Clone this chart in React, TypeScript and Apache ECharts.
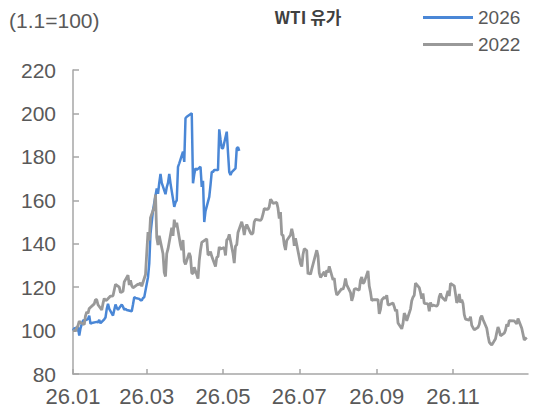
import React, { useEffect, useRef } from 'react';
import * as echarts from 'echarts';

const TITLE = 'WTI 유가';
const UNIT_NOTE = '(1.1=100)';
const YEAR = 2026;
const X_TICK_MONTHS = [1, 3, 5, 7, 9, 11];
const Y_MIN = 80;
const Y_MAX = 220;
const Y_STEP = 20;
const NAME_2026 = '2026';
const NAME_2022 = '2022';

// 2026 WTI, indexed (1.1 = 100), by trading date
const WTI_2026: [string, number][] = [
  ['01-01', 100.0], ['01-02', 101.0], ['01-05', 101.5], ['01-06', 97.7], ['01-07', 101.0], ['01-08', 103.0],
  ['01-09', 104.6], ['01-12', 105.0], ['01-13', 105.4], ['01-14', 106.9], ['01-15', 103.1], ['01-16', 103.5],
  ['01-20', 104.0], ['01-21', 103.8], ['01-22', 104.9], ['01-23', 103.4], ['01-26', 105.2], ['01-27', 106.0],
  ['01-28', 110.0], ['01-29', 112.3], ['01-30', 110.0],
  ['02-02', 106.9], ['02-03', 109.5], ['02-04', 112.0], ['02-05', 110.5], ['02-06', 109.6], ['02-09', 112.0],
  ['02-10', 111.0], ['02-11', 109.6], ['02-12', 110.0], ['02-13', 109.5], ['02-17', 108.9], ['02-18', 112.0],
  ['02-19', 115.4], ['02-20', 115.0], ['02-23', 114.6], ['02-24', 114.0], ['02-25', 113.9], ['02-26', 115.0],
  ['02-27', 115.4],
  ['03-02', 124.6], ['03-03', 130.8], ['03-04', 144.7], ['03-05', 150.0], ['03-06', 155.4], ['03-09', 165.4],
  ['03-10', 163.0], ['03-11', 168.0], ['03-12', 172.1], ['03-13', 168.0], ['03-16', 162.8], ['03-17', 166.0],
  ['03-18', 168.0], ['03-19', 172.1], ['03-20', 167.8], ['03-23', 157.0], ['03-24', 159.0], ['03-25', 160.0],
  ['03-26', 175.4], ['03-27', 177.0], ['03-30', 182.4], ['03-31', 177.7],
  ['04-01', 197.8], ['04-02', 198.5], ['04-06', 200.1], ['04-07', 167.8], ['04-08', 172.0], ['04-09', 174.7],
  ['04-10', 174.0], ['04-13', 175.4], ['04-14', 166.2], ['04-15', 169.0], ['04-16', 150.0], ['04-17', 155.0],
  ['04-20', 161.6], ['04-21', 167.0], ['04-22', 173.1], ['04-23', 173.0], ['04-24', 174.0], ['04-27', 173.9],
  ['04-28', 192.7], ['04-29', 188.0], ['04-30', 183.9],
  ['05-01', 184.0], ['05-04', 191.6], ['05-05', 182.0], ['05-06', 173.0], ['05-07', 171.6], ['05-08', 173.0],
  ['05-11', 174.7], ['05-12', 183.9], ['05-13', 184.5], ['05-14', 182.8],
];

// 2022 WTI, indexed, placed at the calendar date where it is drawn
const WTI_2022: [string, number][] = [
  ['01-01', 100.0], ['01-03', 100.0], ['01-04', 101.2], ['01-05', 102.3], ['01-06', 104.4], ['01-07', 103.7],
  ['01-10', 102.8], ['01-11', 106.8], ['01-12', 108.6], ['01-13', 107.9], ['01-14', 110.2], ['01-18', 112.3],
  ['01-19', 114.3], ['01-20', 114.2], ['01-21', 111.9], ['01-24', 109.5], ['01-25', 112.5], ['01-26', 114.8],
  ['01-27', 113.8], ['01-28', 114.1], ['01-31', 115.9],
  ['02-01', 115.9], ['02-02', 116.0], ['02-03', 118.7], ['02-04', 121.3], ['02-07', 120.0], ['02-08', 117.5],
  ['02-09', 117.8], ['02-10', 118.1], ['02-11', 122.4], ['02-14', 125.5], ['02-15', 121.0], ['02-16', 123.1],
  ['02-17', 120.6], ['02-18', 119.7], ['02-22', 121.4], ['02-23', 121.1], ['02-24', 122.0], ['02-25', 120.4],
  ['02-28', 125.8],
  ['03-01', 135.9], ['03-02', 145.4], ['03-03', 141.5], ['03-04', 152.0], ['03-07', 156.9], ['03-08', 162.6],
  ['03-09', 142.9], ['03-10', 139.4], ['03-11', 143.7], ['03-14', 135.4], ['03-15', 126.8], ['03-16', 124.9],
  ['03-17', 135.4], ['03-18', 137.6], ['03-21', 147.4], ['03-22', 143.6], ['03-23', 151.1], ['03-24', 147.7],
  ['03-25', 149.7], ['03-28', 139.3], ['03-29', 137.0], ['03-30', 141.7], ['03-31', 131.8],
  ['04-01', 130.5], ['04-04', 135.8], ['04-05', 134.0], ['04-06', 126.5], ['04-07', 126.2], ['04-08', 129.2],
  ['04-11', 123.9], ['04-12', 132.2], ['04-13', 137.0], ['04-14', 140.6], ['04-18', 142.2], ['04-19', 134.8],
  ['04-20', 135.1], ['04-21', 136.4], ['04-22', 134.2], ['04-25', 129.5], ['04-26', 133.7], ['04-27', 134.1],
  ['04-28', 138.5], ['04-29', 137.6],
  ['05-02', 138.2], ['05-03', 134.6], ['05-04', 141.7], ['05-05', 142.3], ['05-06', 144.3], ['05-09', 135.5],
  ['05-10', 131.1], ['05-11', 138.9], ['05-12', 139.5], ['05-13', 145.2], ['05-16', 150.1], ['05-17', 147.7],
  ['05-18', 144.0], ['05-19', 147.5], ['05-20', 148.8], ['05-23', 145.0], ['05-24', 144.3], ['05-25', 145.0],
  ['05-26', 150.0], ['05-27', 151.2], ['05-31', 150.7],
  ['06-01', 151.5], ['06-02', 153.6], ['06-03', 156.2], ['06-06', 155.8], ['06-07', 157.0], ['06-08', 160.5],
  ['06-09', 159.7], ['06-10', 158.6], ['06-13', 159.0], ['06-14', 156.3], ['06-15', 151.6], ['06-16', 154.6],
  ['06-17', 144.0], ['06-18', 144.0], ['06-19', 139.6], ['06-20', 137.1], ['06-21', 141.5], ['06-24', 144.0],
  ['06-25', 146.9], ['06-26', 144.3], ['06-27', 139.0], ['06-28', 142.5],
  ['07-02', 130.8], ['07-03', 129.5], ['07-04', 135.0], ['07-05', 137.7], ['07-07', 136.8], ['07-08', 126.0],
  ['07-09', 126.6], ['07-10', 125.9], ['07-11', 128.3], ['07-14', 134.9], ['07-15', 137.0], ['07-16', 134.4],
  ['07-17', 126.6], ['07-18', 124.5], ['07-21', 127.1], ['07-22', 124.8], ['07-23', 127.8], ['07-24', 126.7],
  ['07-25', 129.6], ['07-28', 123.4], ['07-29', 124.1], ['07-30', 119.2], ['07-31', 116.4],
  ['08-01', 117.0], ['08-04', 119.3], ['08-05', 119.0], ['08-06', 120.8], ['08-07', 124.0], ['08-08', 121.0],
  ['08-11', 117.5], ['08-12', 113.7], ['08-13', 115.6], ['08-14', 119.0], ['08-15', 119.3], ['08-18', 118.6],
  ['08-19', 123.2], ['08-20', 124.7], ['08-21', 121.6], ['08-22', 122.3], ['08-25', 127.5], ['08-26', 120.5],
  ['08-27', 117.7], ['08-28', 113.8], ['08-29', 114.2],
  ['09-02', 114.2], ['09-03', 107.7], ['09-04', 109.8], ['09-05', 114.1], ['09-07', 115.4], ['09-08', 114.8],
  ['09-09', 116.3], ['09-10', 111.9], ['09-11', 111.9], ['09-14', 112.7], ['09-15', 111.0], ['09-16', 109.0],
  ['09-17', 109.7], ['09-18', 103.5], ['09-21', 100.8], ['09-22', 103.2], ['09-23', 108.0], ['09-24', 106.8],
  ['09-25', 104.5], ['09-28', 109.9], ['09-29', 113.7], ['09-30', 115.4],
  ['10-01', 116.3], ['10-02', 121.8], ['10-05', 119.8], ['10-06', 117.4], ['10-07', 114.7], ['10-08', 117.1],
  ['10-09', 112.5], ['10-12', 112.3], ['10-13', 108.9], ['10-14', 113.0], ['10-15', 111.1], ['10-16', 111.8],
  ['10-19', 111.2], ['10-20', 112.1], ['10-21', 115.6], ['10-22', 117.1], ['10-23', 115.5], ['10-26', 113.7],
  ['10-27', 116.2], ['10-28', 118.3], ['10-29', 115.9], ['10-30', 121.7],
  ['11-02', 120.6], ['11-03', 116.9], ['11-04', 112.8], ['11-05', 113.7], ['11-06', 116.9], ['11-07', 112.9],
  ['11-08', 114.2], ['11-09', 112.5], ['11-10', 107.3], ['11-11', 105.3], ['11-14', 104.8], ['11-15', 106.4],
  ['11-16', 102.4], ['11-18', 100.3], ['11-21', 101.5], ['11-22', 102.8], ['11-23', 105.9], ['11-24', 106.8],
  ['11-25', 105.1], ['11-28', 101.1], ['11-29', 97.6], ['11-30', 94.7],
  ['12-01', 93.9], ['12-02', 93.3], ['12-05', 96.2], ['12-06', 99.1], ['12-07', 101.6], ['12-08', 100.0],
  ['12-09', 97.6], ['12-12', 98.8], ['12-13', 100.2], ['12-14', 102.9], ['12-15', 101.9], ['12-16', 104.6],
  ['12-20', 104.5], ['12-21', 103.8], ['12-22', 103.1], ['12-23', 105.5], ['12-26', 101.1], ['12-28', 95.7],
  ['12-30', 96.8],
];

const COLOR_2026 = '#4a87d6';
const COLOR_2022 = '#999999';
const AXIS_COLOR = '#a6a6a6';
const TEXT_COLOR = '#595959';
const NUM_FONT = '"Liberation Sans", Arial, sans-serif';
const KR_FONT = '"Noto Sans CJK KR", "Noto Sans", sans-serif';

const DAY_MS = 86400000;
function dayOfYear(md: string): number {
  const [m, d] = md.split('-').map(Number);
  return Math.round((Date.UTC(YEAR, m - 1, d) - Date.UTC(YEAR, 0, 1)) / DAY_MS);
}
const pad2 = (n: number) => (n < 10 ? '0' + n : '' + n);
const YY = String(YEAR).slice(2);
const X_TICKS = X_TICK_MONTHS.map((m) => dayOfYear(`${pad2(m)}-01`));
const X_LABEL_BY_DAY: Record<number, string> = {};
X_TICK_MONTHS.forEach((m, i) => {
  X_LABEL_BY_DAY[X_TICKS[i]] = `${YY}.${pad2(m)}`;
});
const X_MAX = dayOfYear('12-31');

export default function App() {
  const ref = useRef<HTMLDivElement>(null);
  useEffect(() => {
    document.body.style.margin = '0';
    if (!ref.current) return;
    const chart = echarts.init(ref.current, undefined, { renderer: 'svg' });
    chart.setOption({
      animation: false,
      backgroundColor: '#ffffff',
      grid: { left: 73, right: 22, top: 70, bottom: 40, containLabel: false, outerBoundsMode: 'none' },
      legend: {
        data: [
          { name: NAME_2026, icon: 'rect' },
          { name: NAME_2022, icon: 'rect' },
        ],
        orient: 'vertical',
        left: 418,
        top: 3,
        itemWidth: 50,
        itemHeight: 3,
        itemGap: 8,
        textStyle: { fontSize: 19, color: TEXT_COLOR, fontFamily: NUM_FONT },
      },
      graphic: [
        {
          type: 'text',
          x: 308,
          y: 16,
          style: {
            text: TITLE,
            fontSize: 17,
            fontWeight: 'bold',
            fontFamily: KR_FONT,
            fill: '#404040',
            textAlign: 'center',
            textVerticalAlign: 'middle',
          },
        },
        {
          type: 'text',
          x: 9,
          y: 20,
          style: {
            text: UNIT_NOTE,
            fontSize: 21,
            fontFamily: NUM_FONT,
            fill: TEXT_COLOR,
            textAlign: 'left',
            textVerticalAlign: 'middle',
          },
        },
      ],
      xAxis: {
        type: 'value',
        min: 0,
        max: X_MAX,
        axisLine: { show: true, lineStyle: { color: AXIS_COLOR, width: 1.5 } },
        axisTick: { show: true, inside: true, length: 5, customValues: X_TICKS, lineStyle: { color: AXIS_COLOR, width: 1.5 } },
        axisLabel: {
          customValues: X_TICKS,
          formatter: (v: number) => X_LABEL_BY_DAY[v] ?? '',
          fontSize: 22,
          color: TEXT_COLOR,
          fontFamily: NUM_FONT,
          margin: 11,
        },
        splitLine: { show: false },
      },
      yAxis: {
        type: 'value',
        min: Y_MIN,
        max: Y_MAX,
        interval: Y_STEP,
        axisLine: { show: true, lineStyle: { color: AXIS_COLOR, width: 1.5 } },
        axisTick: { show: true, inside: true, length: 6, lineStyle: { color: AXIS_COLOR, width: 1.5 } },
        axisLabel: { fontSize: 21, color: TEXT_COLOR, fontFamily: NUM_FONT, margin: 17 },
        splitLine: { show: false },
      },
      series: [
        {
          name: NAME_2026,
          type: 'line',
          showSymbol: false,
          symbol: 'none',
          color: COLOR_2026,
          lineStyle: { color: COLOR_2026, width: 2.5 },
          data: WTI_2026.map(([d, v]) => [dayOfYear(d), v]),
          z: 2,
        },
        {
          name: NAME_2022,
          type: 'line',
          showSymbol: false,
          symbol: 'none',
          color: COLOR_2022,
          lineStyle: { color: COLOR_2022, width: 2.8 },
          data: WTI_2022.map(([d, v]) => [dayOfYear(d), v]),
          z: 3,
        },
      ],
    });
    return () => chart.dispose();
  }, []);
  return <div ref={ref} style={{ width: 550, height: 414 }} />;
}
